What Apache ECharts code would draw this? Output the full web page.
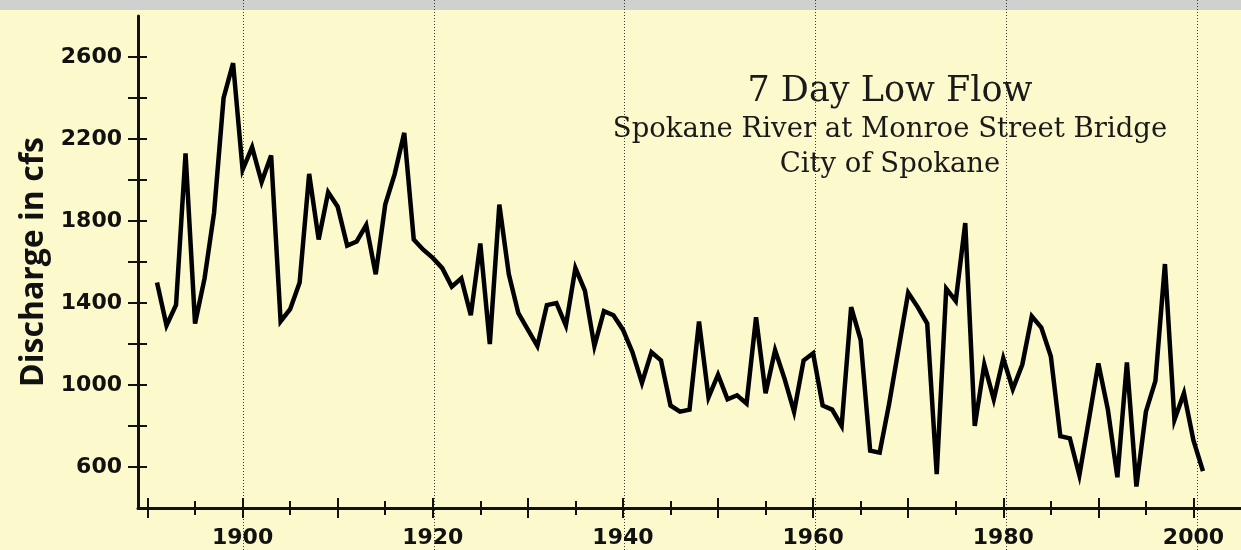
<!DOCTYPE html>
<html>
<head>
<meta charset="utf-8">
<script src="https://cdn.jsdelivr.net/npm/echarts@6/dist/echarts.min.js"></script>
<style>
  html, body { margin: 0; padding: 0; background: #fcf9cc; }
  #chart { width: 1241px; height: 550px; }
</style>
</head>
<body>
<div id="chart"></div>
<script>
// 7-day low flow (cfs), one value per year starting in 1891
const FIRST_YEAR = 1891;
const flow1890s = [1500, 1290, 1390, 2130, 1300, 1520, 1840, 2400, 2570];
const flow1900s = [2050, 2160, 1990, 2120, 1310, 1370, 1500, 2030, 1710, 1940];
const flow1910s = [1870, 1680, 1700, 1780, 1540, 1880, 2030, 2230, 1710, 1660];
const flow1920s = [1620, 1570, 1480, 1520, 1340, 1690, 1200, 1880, 1540, 1350];
const flow1930s = [1270, 1190, 1390, 1400, 1290, 1570, 1460, 1190, 1360, 1340];
const flow1940s = [1270, 1160, 1010, 1160, 1120, 900, 870, 880, 1310, 940];
const flow1950s = [1050, 930, 950, 910, 1330, 960, 1170, 1030, 870, 1120];
const flow1960s = [1155, 900, 880, 800, 1380, 1220, 680, 670, 910, 1180];
const flow1970s = [1450, 1380, 1300, 565, 1470, 1410, 1790, 800, 1100, 930];
const flow1980s = [1130, 980, 1100, 1335, 1280, 1140, 750, 740, 560, 830];
const flow1990s = [1105, 880, 550, 1110, 505, 870, 1020, 1590, 830, 960];
const flow2000s = [730, 580];

// Axis ticks and labels
const yearLabels = [1900, 1920, 1940, 1960, 1980, 2000];
const yearMajorTicks = [1890, 1900, 1910, 1920, 1930, 1940, 1950, 1960, 1970, 1980, 1990, 2000];
const yearMinorTicks = [1895, 1905, 1915, 1925, 1935, 1945, 1955, 1965, 1975, 1985, 1995];
const flowLabels = [600, 1000, 1400, 1800, 2200, 2600];
const flowTicks = [600, 800, 1000, 1200, 1400, 1600, 1800, 2000, 2200, 2400, 2600];

const titleMain = '7 Day Low Flow';
const titleSite = 'Spokane River at Monroe Street Bridge';
const titleOwner = 'City of Spokane';

const flows = [].concat(flow1890s, flow1900s, flow1910s, flow1920s, flow1930s,
  flow1940s, flow1950s, flow1960s, flow1970s, flow1980s, flow1990s, flow2000s);
const seriesData = flows.map((v, i) => [FIRST_YEAR + i, v]);

const INK = '#111';
const tickFont = {
  fontFamily: 'DejaVu Sans', fontWeight: 'bold', fontSize: 22, color: INK,
  formatter: (v) => String(v)
};

// plot area: 1889..2005 across 1107 px
const PLOT_LEFT = 138;
const PLOT_WIDTH = 1107;
const PX_PER_YEAR = PLOT_WIDTH / (2005 - 1889);

function yearAxis(extra) {
  return Object.assign({
    type: 'value', gridIndex: 0, min: 1889, max: 2005, position: 'bottom',
    axisLine: { show: false, onZero: false },
    axisLabel: { show: false },
    splitLine: { show: false }
  }, extra);
}
function flowAxis(extra) {
  return Object.assign({
    type: 'value', gridIndex: 0, min: 400, max: 2800, position: 'left',
    axisLine: { show: false, onZero: false },
    axisLabel: { show: false },
    splitLine: { show: false }
  }, extra);
}

const chart = echarts.init(document.getElementById('chart'), null, { renderer: 'canvas' });
chart.setOption({
  animation: false,
  backgroundColor: '#fcf9cc',
  title: [
    { text: titleMain, left: 890, top: 92, padding: 0, textAlign: 'center', textVerticalAlign: 'middle',
      textStyle: { fontFamily: 'DejaVu Serif', fontWeight: 'normal', fontSize: 35, color: '#1a1a1a' } },
    { text: titleSite, left: 890, top: 130, padding: 0, textAlign: 'center', textVerticalAlign: 'middle',
      textStyle: { fontFamily: 'DejaVu Serif', fontWeight: 'normal', fontSize: 27.5, color: '#1a1a1a' } },
    { text: titleOwner, left: 890, top: 165, padding: 0, textAlign: 'center', textVerticalAlign: 'middle',
      textStyle: { fontFamily: 'DejaVu Serif', fontWeight: 'normal', fontSize: 27.5, color: '#1a1a1a' } }
  ],
  graphic: [
    { type: 'rect', z: -10, shape: { x: 0, y: 0, width: 1241, height: 10 }, style: { fill: '#cfd1cf' } }
  ],
  grid: [
    { left: PLOT_LEFT, top: 16, width: PLOT_WIDTH, height: 492 },
    // full-height grid carrying the dotted year guides (1900..2000)
    { left: PLOT_LEFT + 11 * PX_PER_YEAR, top: 0, width: 100 * PX_PER_YEAR, height: 550 }
  ],
  xAxis: [
    yearAxis({
      axisLine: { show: true, onZero: false, lineStyle: { color: INK, width: 3 } },
      axisTick: { show: true, customValues: yearMajorTicks, inside: false, length: 10, lineStyle: { color: INK, width: 2 } },
      axisLabel: Object.assign({ show: true, customValues: yearLabels, margin: 19 }, tickFont)
    }),
    yearAxis({ axisTick: { show: true, customValues: yearMajorTicks, inside: true, length: 10, lineStyle: { color: INK, width: 2 } } }),
    yearAxis({ axisTick: { show: true, customValues: yearMinorTicks, inside: false, length: 7, lineStyle: { color: INK, width: 2 } } }),
    yearAxis({ axisTick: { show: true, customValues: yearMinorTicks, inside: true, length: 7, lineStyle: { color: INK, width: 2 } } }),
    {
      type: 'value', gridIndex: 1, min: 1900, max: 2000, interval: 20,
      axisLine: { show: false }, axisTick: { show: false }, axisLabel: { show: false },
      splitLine: { show: true, lineStyle: { color: '#3a3a3a', width: 1, type: [1, 2] } }
    }
  ],
  yAxis: [
    flowAxis({
      axisLine: { show: true, onZero: false, lineStyle: { color: INK, width: 3 } },
      axisTick: { show: true, customValues: flowTicks, inside: false, length: 10, lineStyle: { color: INK, width: 2 } },
      axisLabel: Object.assign({ show: true, customValues: flowLabels, margin: 16 }, tickFont),
      name: 'Discharge in cfs',
      nameLocation: 'middle',
      nameRotate: 90,
      nameGap: 86,
      nameTextStyle: { fontFamily: 'Open Sans', fontWeight: 'bold', fontSize: 32, color: INK }
    }),
    flowAxis({ axisTick: { show: true, customValues: flowTicks, inside: true, length: 9, lineStyle: { color: INK, width: 2 } } }),
    { type: 'value', gridIndex: 1, show: false, min: 0, max: 1, splitLine: { show: false } }
  ],
  series: [{
    type: 'line',
    xAxisIndex: 0,
    yAxisIndex: 0,
    data: seriesData,
    symbol: 'none',
    silent: true,
    z: 5,
    lineStyle: { color: '#000', width: 4.5, join: 'miter', miterLimit: 5 }
  }]
});
</script>
</body>
</html>
